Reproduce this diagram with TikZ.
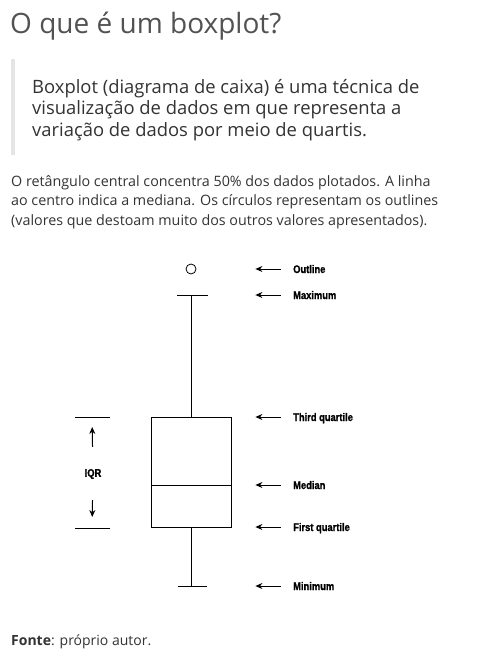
\documentclass[tikz,border=0pt]{standalone}
\usepackage{fontspec}
\setmainfont{Open Sans}
\newfontfamily\lblfont[FakeStretch=0.85,BoldFeatures={FakeBold=1.2}]{Liberation Sans}
\usepackage{tikz}
\usetikzlibrary{calc,positioning}
\usetikzlibrary{arrows.meta}
\tikzset{>={Stealth[width=6pt,length=7pt]}}
\definecolor{txtgray}{HTML}{333333}
\definecolor{bargray}{HTML}{E4E5E7}

\begin{document}
\begin{tikzpicture}[x=1pt,y=-1pt]
    \tikzstyle{tnode} = [inner sep=0pt, anchor=base west, text=txtgray, align=left]
    \tikzstyle{lnode} = [inner sep=0pt, anchor=base west, font=\lblfont\bfseries\fontsize{11}{12}\selectfont]
    \tikzstyle{plot} = [draw=black, line width=0.8pt]
    \tikzstyle{pointer} = [->, line width=1pt]

    \useasboundingbox[fill=white] (0,0) rectangle (481,666);

    % text above the plot
    \node[tnode, font=\fontsize{28}{32}\selectfont, text=txtgray!85] (title) at (10,34) {O que é um boxplot?};
    \fill[bargray] (11,59) rectangle (15,155);
    \node[tnode, anchor=north west, font=\fontsize{18.4}{21.5}\selectfont] (quote) at (32,79) {Boxplot (diagrama de caixa) é uma técnica de\\
      visualização de dados em que representa a\\
      variação de dados por meio de quartis.};
    \node[tnode, anchor=north west, font=\fontsize{14.3}{19.8}\selectfont] (text) at (11,175) {O retângulo central concentra 50\% dos dados plotados. A linha\\
      ao centro indica a mediana. Os círculos representam os outlines\\
      (valores que destoam muito dos outros valores apresentados).};

    % boxplot
    \node[plot, rectangle, minimum width=80pt, minimum height=110pt, inner sep=0pt] (box) at (191,472) {};
    \draw[plot] (box.west |- 0,485) -- (box.east |- 0,485);
    \coordinate (max) at (191,295);
    \coordinate (min) at (191,586);
    \draw[plot] (box.north) -- (max);
    \draw[plot] (box.south) -- (min);
    \draw[plot] ($(max)+(-14,0)$) -- ($(max)+(17,0)$);
    \draw[plot] ($(min)+(-13,0)$) -- ($(min)+(16,0)$);
    \node[plot, circle, minimum size=10pt, inner sep=0pt] (out) at (191,269) {};

    % IQR
    \node[lnode, anchor=center] (iqr) at (93,474) {IQR};
    \coordinate (iqrtop) at (92,417);
    \coordinate (iqrbot) at (92,528);
    \draw[plot] (75,417) -- (110,417);
    \draw[plot] (75,528) -- (110,528);
    \draw[pointer, shorten <=22pt, shorten >=10pt] (iqr) -- (iqrtop);
    \draw[pointer, shorten <=21pt, shorten >=11pt] (iqr) -- (iqrbot);

    % labels
    \node[lnode] (lout) at (293,273) {Outline};
    \node[lnode] (lmax) at (293,299) {Maximum};
    \node[lnode] (lq3) at (293,421) {Third quartile};
    \node[lnode] (lmed) at (293,489) {Median};
    \node[lnode] (lq1) at (293,531) {First quartile};
    \node[lnode] (lmin) at (293,590) {Minimum};
    \foreach \l/\y in {lout/269,lmax/295,lq3/417,lmed/485,lq1/527,lmin/586}
      \draw[pointer, shorten <=12pt, shorten >=24pt] (\l.west |- 0,\y) -- (box.east |- 0,\y);

    \node[tnode, font=\fontsize{14}{16}\selectfont] (src) at (11,645) {\textbf{Fonte}: próprio autor.};

  \end{tikzpicture}
\end{document}
